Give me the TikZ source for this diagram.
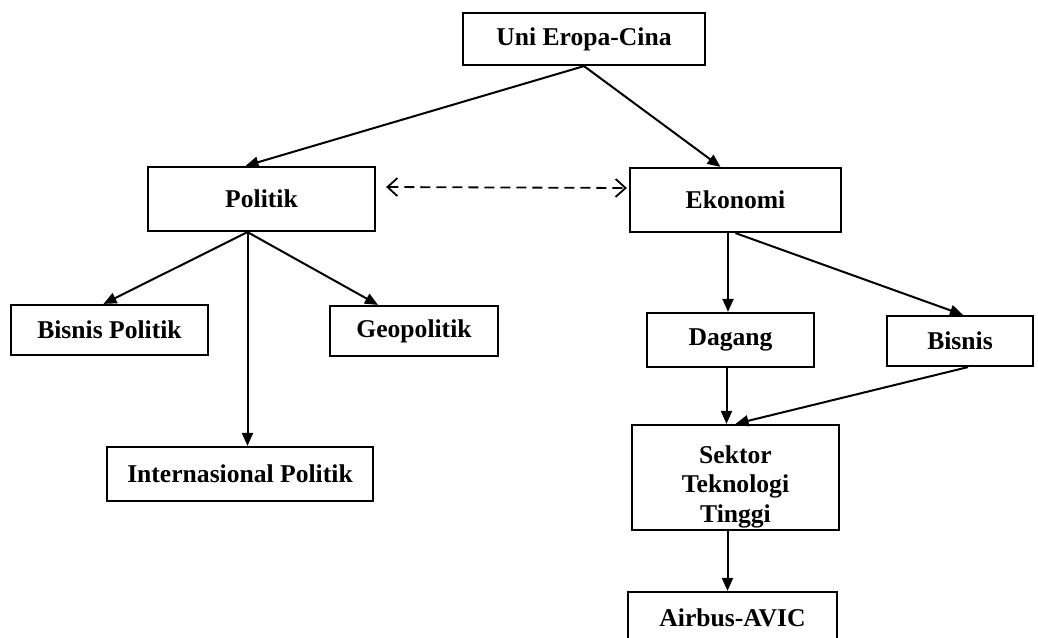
\documentclass[tikz,border=0pt]{standalone}
\usepackage{fontspec}
\setmainfont{Liberation Serif}
\usetikzlibrary{arrows.meta,positioning}

\begin{document}
\begin{tikzpicture}[x=0.5pt, y=-0.5pt,
  box/.style={draw, line width=1.1pt, align=center, inner sep=2pt,
              font=\fontsize{12.8}{14.6}\selectfont\bfseries},
  arr/.style={-{Triangle[length=6.5pt, width=5.5pt]}, line width=1pt},
  dasharr/.style={{Straight Barb[length=5pt, width=9pt]}-{Straight Barb[length=5pt, width=9pt]},
                  line width=0.9pt, dash pattern=on 5pt off 3pt}]
  \useasboundingbox (0,0) rectangle (1038,637);
  \node[box, minimum width=121pt, minimum height=26pt] (uni) at (584,39) {Uni Eropa-Cina};
  \node[box, minimum width=113.5pt, minimum height=32pt] (pol) at (261.5,199) {Politik};
  \node[box, minimum width=105.5pt, minimum height=32pt] (eko) at (735.5,200) {Ekonomi};
  \node[box, minimum width=98.5pt, minimum height=25pt] (bpol) at (109.5,330) {Bisnis Politik};
  \node[box, minimum width=84pt, minimum height=25pt] (geo) at (414,331) {Geopolitik};
  \node[box, minimum width=133pt, minimum height=27pt] (ipol) at (240,474) {Internasional Politik};
  \node[box, minimum width=83.5pt, minimum height=27pt] (dag) at (730.5,340) {Dagang};
  \node[box, minimum width=73pt, minimum height=25pt] (bis) at (960,341) {Bisnis};
  \node[box, minimum width=103.5pt, minimum height=52.5pt, text height=45.5pt, text depth=1pt] (sek) at (735.5,477.5) {Sektor\\ Teknologi\\ Tinggi};
  \node[box, minimum width=104.5pt, minimum height=26pt] (air) at (732.5,618) {Airbus-AVIC};
  \draw[arr] (uni.south) -- ([xshift=-8pt]pol.north);
  \draw[arr] (uni.south) -- ([xshift=-7.5pt]eko.north);
  \draw[dasharr] ([xshift=5pt, yshift=6pt]pol.east) -- ([xshift=-1pt, yshift=6pt]eko.west);
  \draw[arr] ([xshift=-7pt]pol.south) -- ([xshift=-3pt]bpol.north);
  \draw[arr] ([xshift=-7pt]pol.south) -- ([xshift=-18pt]geo.north);
  \draw[arr] ([xshift=-7pt]pol.south) -- ([xshift=-7pt]pol.south |- ipol.north);
  \draw[arr] ([xshift=-3.75pt]eko.south) -- ([xshift=-3.75pt]eko.south |- dag.north);
  \draw[arr] (eko.south) -- ([xshift=1.5pt]bis.north);
  \draw[arr] ([xshift=-2pt]dag.south) -- ([xshift=-2pt]dag.south |- sek.north);
  \draw[arr] ([xshift=4pt]bis.south) -- (sek.north);
  \draw[arr] ([xshift=-4pt]sek.south) -- ([xshift=-4pt]sek.south |- air.north);
\end{tikzpicture}
\end{document}
